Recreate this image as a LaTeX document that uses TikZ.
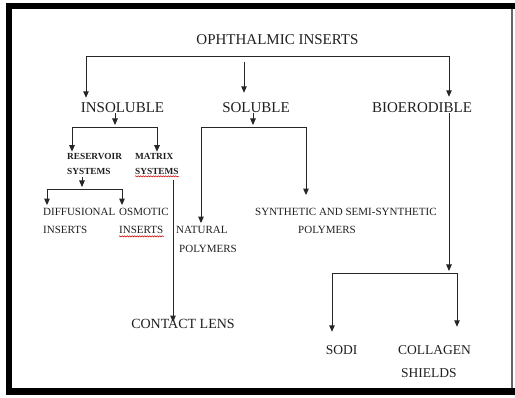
\documentclass[tikz,border=0pt]{standalone}
\usepackage{fontspec}
\setmainfont{Liberation Serif}
\usetikzlibrary{arrows.meta,decorations.pathmorphing}
\tikzset{
  lbl/.style={inner sep=0pt, text=black!88},
  big/.style={lbl, font=\fontsize{15}{18}\selectfont},
  mid/.style={lbl, font=\fontsize{11}{18}\selectfont, align=left},
  tiny/.style={lbl, font=\fontsize{9.3}{15}\selectfont\bfseries, align=left},
  low/.style={lbl, font=\fontsize{13.5}{23}\selectfont, align=left},
  arr/.style={draw=black!85, line width=1pt, -{Triangle[length=6.5pt,width=5.5pt]}},
  arrb/.style={arr, {Triangle[length=6.5pt,width=5.5pt]}-{Triangle[length=6.5pt,width=5.5pt]}},
  squig/.style={red!80!black, line width=0.5pt, decorate,
    decoration={snake,amplitude=0.6pt,segment length=2.5pt}}
}
\begin{document}
\begin{tikzpicture}[x=1pt,y=-1pt]
\useasboundingbox (0,0) rectangle (515,398);
% frame
\fill[black] (6,3) rectangle (515,9);
\fill[black] (6,3) rectangle (12,395);
\fill[black] (6,388) rectangle (515,395);
\draw[line width=1.5pt,black!60] (512,9) -- (512,388);

% labels
\node[big] (root) at (277.5,40) {OPHTHALMIC INSERTS};
\node[big] (insol) at (122.5,108) {INSOLUBLE};
\node[big] (sol) at (256,108) {SOLUBLE};
\node[big] (bio) at (422,108) {BIOERODIBLE};
\node[tiny,anchor=west] (resv) at (67,163.5) {RESERVOIR\\SYSTEMS};
\node[tiny,anchor=west] (matx) at (135,163.5) {MATRIX\\SYSTEMS};
\node[mid,anchor=west] (diff) at (43,221) {DIFFUSIONAL\\INSERTS};
\node[mid,anchor=west] (osmo) at (119,221) {OSMOTIC\\INSERTS};
\node[mid,anchor=west] (natp) at (176,239.5) {NATURAL\\[1pt]\hspace*{3pt}POLYMERS};
\node[mid,anchor=west] (synp) at (255,221) {SYNTHETIC AND SEMI-SYNTHETIC\\\hspace*{43pt}POLYMERS};
\node[lbl,font=\fontsize{14}{17}\selectfont] (lens) at (183,324) {CONTACT LENS};
\node[low] (sodi) at (341.5,350) {SODI};
\node[low,anchor=west] (colg) at (398,361.5) {COLLAGEN\\\hspace*{3pt}SHIELDS};

% spelling marks
\draw[squig] ([yshift=-2pt]matx.south west) -- ([yshift=-2pt]matx.south east);
\draw[squig] ([yshift=-2.5pt]osmo.south west) -- ++(45,0);

% top level
\coordinate (tl) at (86,57);
\coordinate (tr) at (449,57);
\coordinate (tm) at (244,62);
\draw[arrb,shorten <=5pt,shorten >=6pt] (tl |- insol.north) -- (tl) -- (tr) -- (tr |- bio.north);
\draw[arr,shorten >=10pt] (tm) -- (tm |- sol.north);

% insoluble
\coordinate (ia) at (115,128);
\coordinate (il) at (72,128);
\coordinate (ir) at (157,128);
\draw[arr,shorten >=3pt] (ia |- insol.south) -- (ia);
\draw[arrb,shorten <=1pt,shorten >=1pt] (il |- resv.north) -- (il) -- (ir) -- (ir |- matx.north);

% reservoir systems
\coordinate (ra) at (82,190);
\coordinate (rl) at (47,190);
\coordinate (rr) at (122,190);
\draw[arr,shorten <=3pt,shorten >=3pt] (ra |- resv.south) -- (ra);
\draw[arrb,shorten <=3pt,shorten >=3pt] (rl |- diff.north) -- (rl) -- (rr) -- (rr |- osmo.north);

% matrix systems
\coordinate (mx) at (173,180);
\draw[arr,shorten >=-3pt] (mx) -- (mx |- lens.north);

% soluble
\coordinate (sa) at (253,128);
\coordinate (sl) at (201,128);
\coordinate (sr) at (306,128);
\draw[arr,shorten >=3pt] (sa |- sol.south) -- (sa);
\draw[arrb,shorten <=3pt,shorten >=13pt] (sl |- natp.north) -- (sl) -- (sr) -- (sr |- synp.north);

% bioerodible
\coordinate (ba) at (449,274);
\coordinate (bl) at (332,274);
\coordinate (br) at (457,274);
\draw[arr,shorten >=3pt] (ba |- bio.south) -- (ba);
\draw[arrb,shorten <=13.5pt,shorten >=18.5pt] (bl |- sodi.north) -- (bl) -- (br) -- (br |- colg.north);
\end{tikzpicture}
\end{document}
